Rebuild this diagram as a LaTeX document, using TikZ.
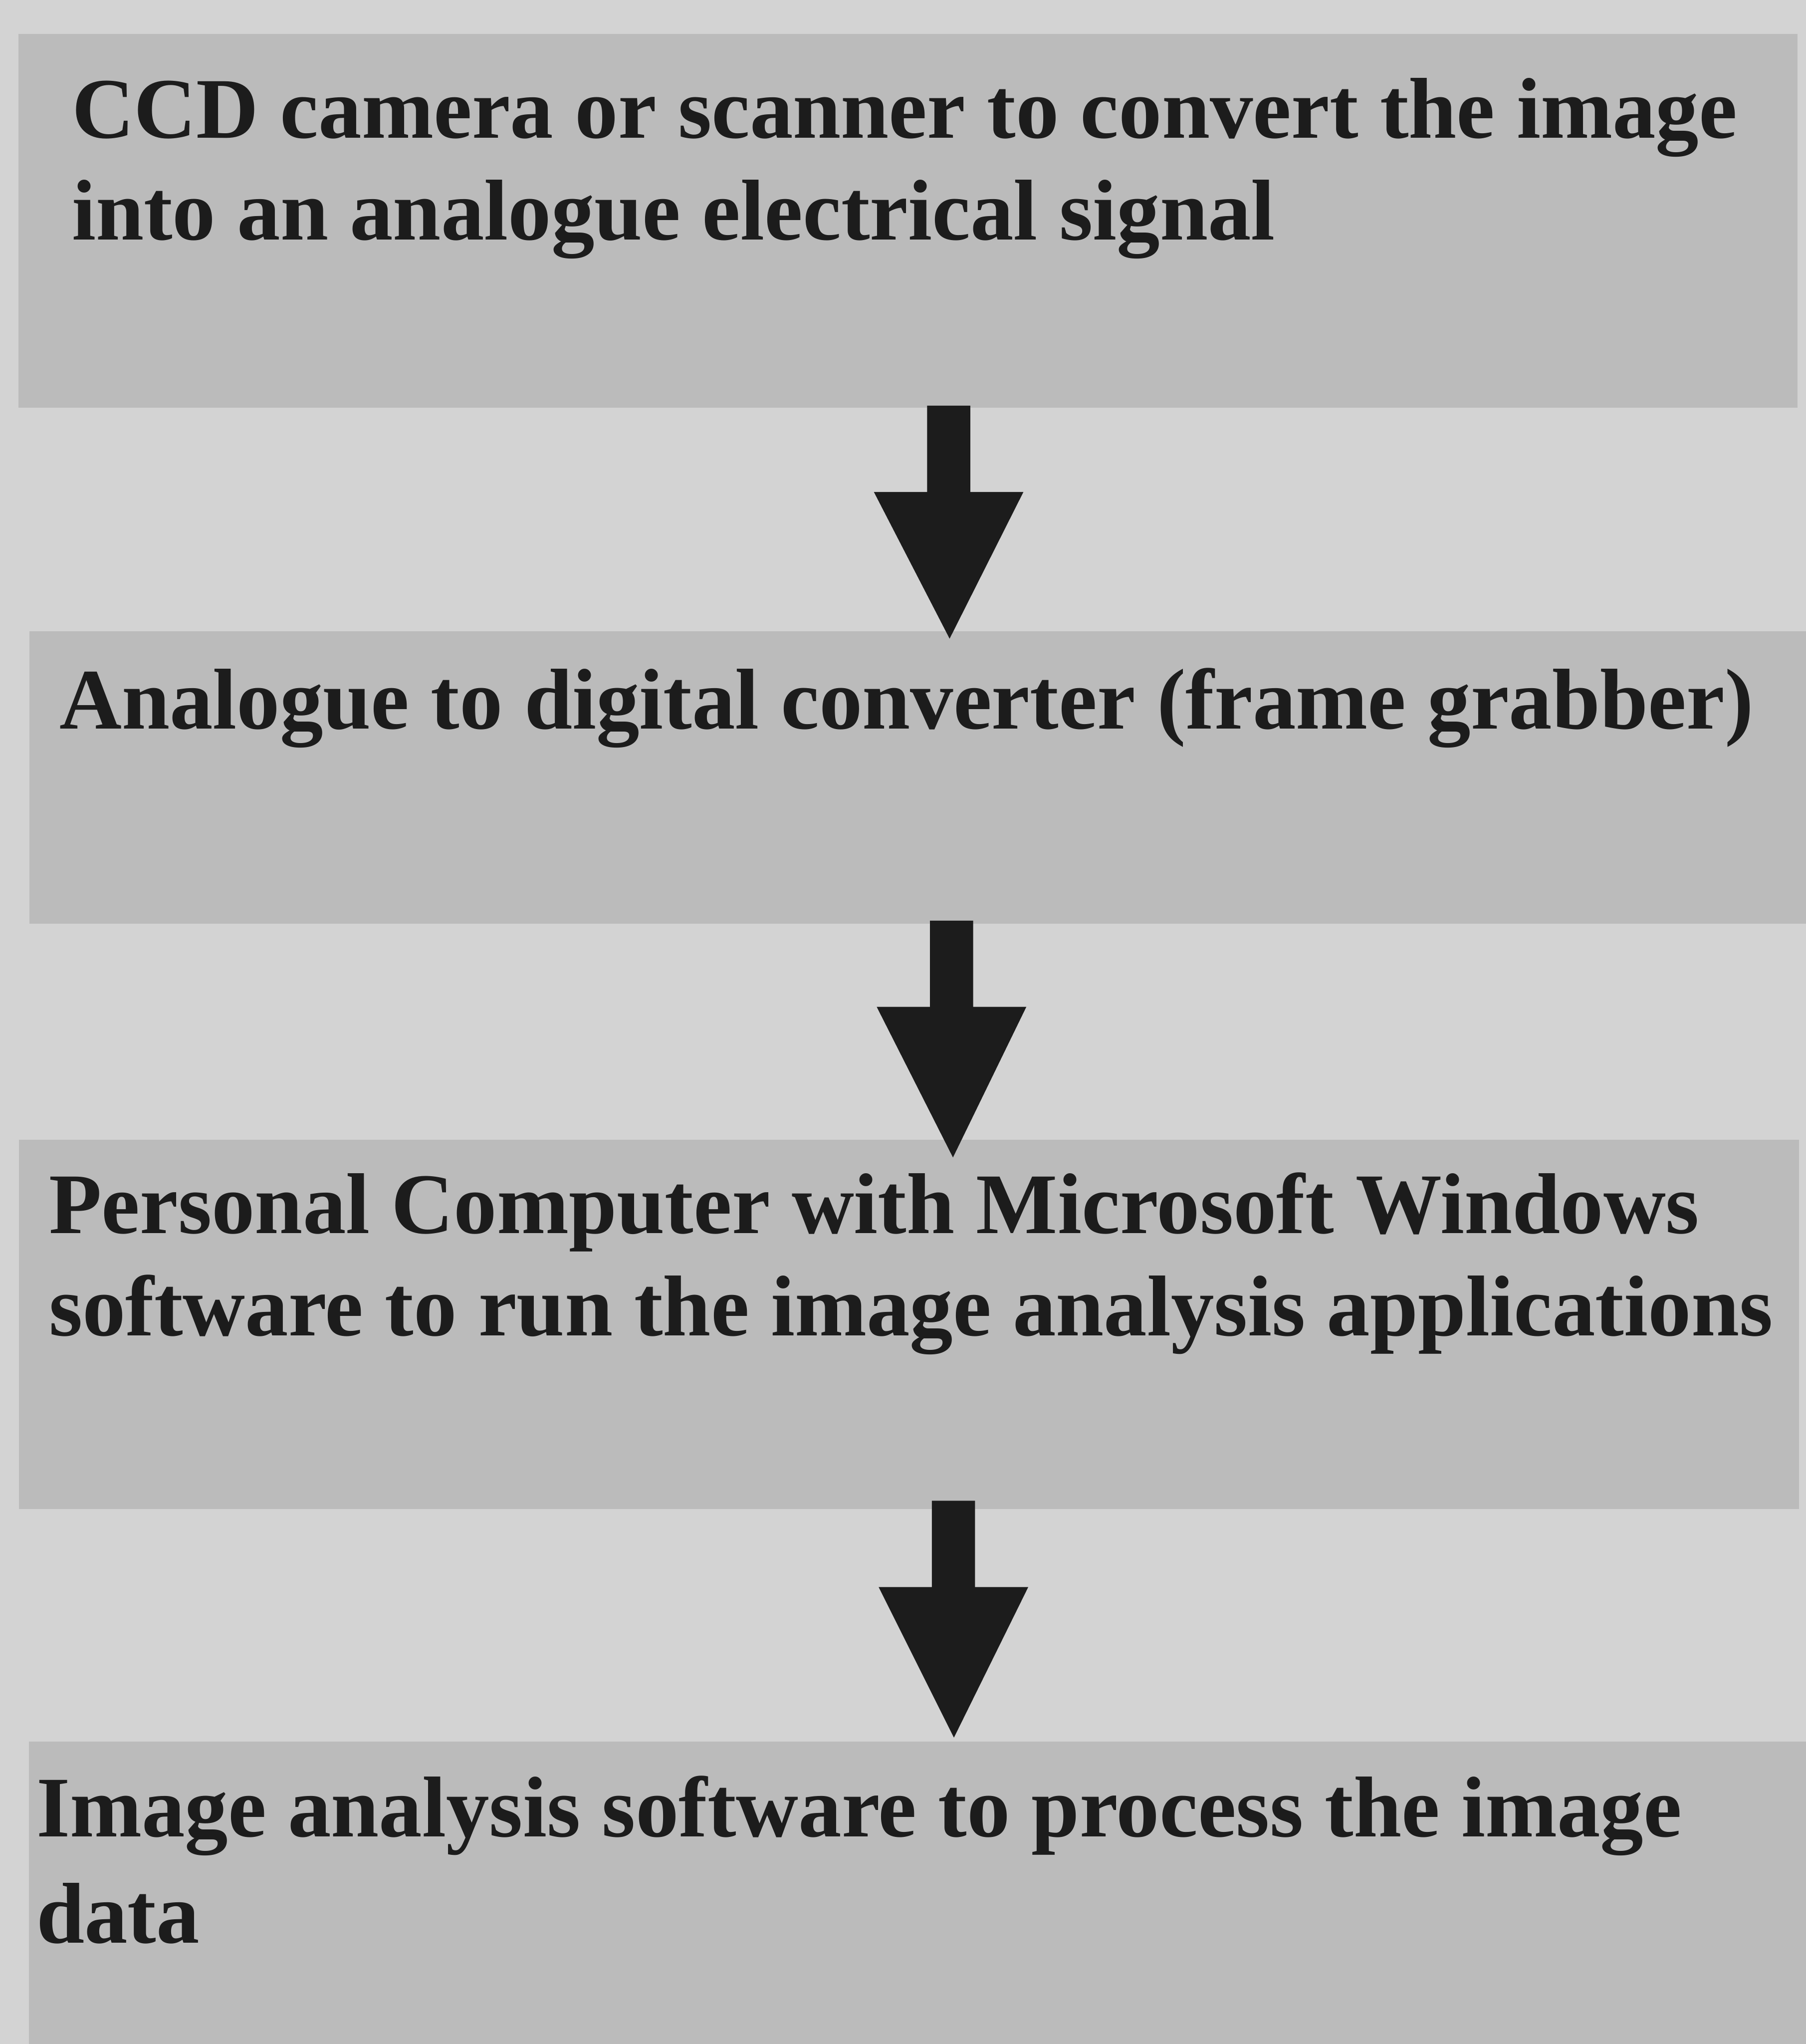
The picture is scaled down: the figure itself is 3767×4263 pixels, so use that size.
\documentclass[tikz,border=0pt]{standalone}
\usepackage{fontspec}
\setmainfont{Liberation Serif}
\usetikzlibrary{calc}
\definecolor{pagegrey}{RGB}{211,211,211}
\definecolor{boxgrey}{RGB}{187,187,187}
\definecolor{inkblack}{RGB}{28,28,28}
\tikzset{
  stagebox/.style={rectangle, fill=boxgrey, draw=none, inner sep=0pt, anchor=north west},
  stagetext/.style={anchor=base west, inner sep=0pt, text=inkblack,
    font=\fontsize{18.0pt}{21.5pt}\selectfont\bfseries},
  blockarrow/.style={fill=inkblack, draw=none}
}
\begin{document}
\begin{tikzpicture}[x=0.1pt, y=-0.1pt]
  % page
  \fill[pagegrey] (0,0) rectangle (3767,4263);
  \useasboundingbox (0,0) rectangle (3767,4263);

  % stage boxes
  \node[stagebox, minimum width=371.2pt, minimum height=77.9pt] (b1) at (36,69) {};
  \node[stagebox, minimum width=370.8pt, minimum height=61.0pt] (b2) at (59,1315) {};
  \node[stagebox, minimum width=371.3pt, minimum height=77.0pt] (b3) at (38,2375) {};
  \node[stagebox, minimum width=370.9pt, minimum height=63.3pt] (b4) at (58,3630) {};

  % arrow start and tip points
  \coordinate (a1s) at (1979,846);
  \coordinate (a1t) at (1981,1332);
  \coordinate (a2s) at (1985,1920);
  \coordinate (a2t) at (1988,2414);
  \coordinate (a3s) at (1989,3130);
  \coordinate (a3t) at (1990,3624);

  % block arrows between the stages
  \foreach \s/\t in {a1s/a1t, a2s/a2t, a3s/a3t}{
    \fill[blockarrow] ($(\s)+(-45,0)$) -- ($(\s)+(45,0)$) -- ($(\s)+(45,180)$)
      -- ($(\s)+(156,180)$) -- (\t) -- ($(\s)+(-156,180)$)
      -- ($(\s)+(-45,180)$) -- cycle;
  }

  % stage texts
  \node[stagetext] (t1a) at (148,288) {CCD camera or scanner to convert the image};
  \node[stagetext] (t1b) at (148,500) {into an analogue electrical signal};
  \node[stagetext] (t2)  at (122,1520) {Analogue to digital converter (frame grabber)};
  \node[stagetext] (t3a) at (100,2572) {Personal Computer with Microsoft Windows};
  \node[stagetext] (t3b) at (100,2786) {software to run the image analysis applications};
  \node[stagetext] (t4a) at (74,3830) {Image analysis software to process the image};
  \node[stagetext] (t4b) at (74,4052) {data};
\end{tikzpicture}
\end{document}
